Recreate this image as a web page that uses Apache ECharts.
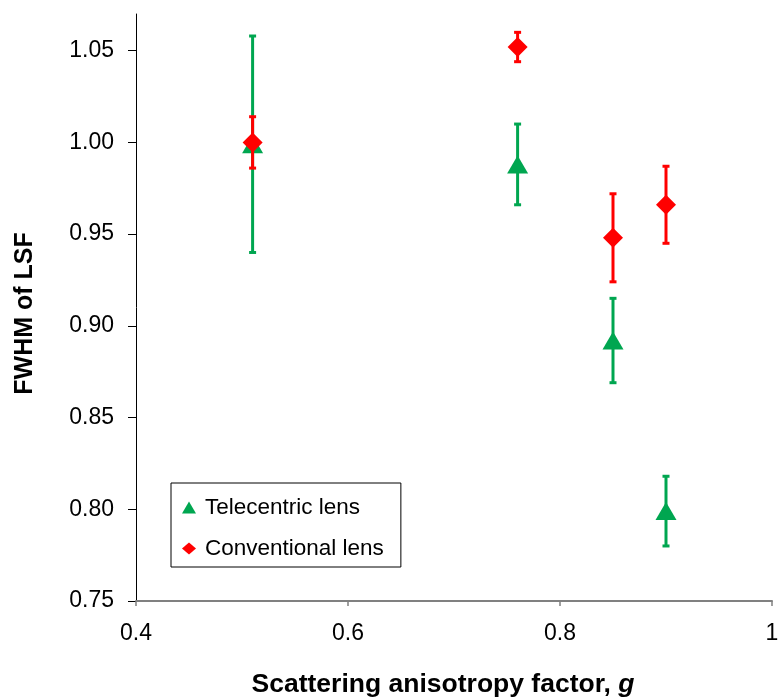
<!DOCTYPE html>
<html>
<head>
<meta charset="utf-8">
<script src="https://cdn.jsdelivr.net/npm/echarts@6/dist/echarts.min.js"></script>
<style>
  html, body { margin: 0; padding: 0; background: #fff; }
  #chart { width: 779px; height: 700px; }
</style>
</head>
<body>
<div id="chart"></div>
<script>
// anisotropy factor g
var gValues = [0.51, 0.76, 0.85, 0.90];
// telecentric lens: FWHM and error
var teleFwhm = [0.999, 0.988, 0.892, 0.799];
var teleErr = [0.059, 0.022, 0.023, 0.019];
// conventional lens
var convFwhm = [1.000, 1.052, 0.948, 0.966];
var convErr = [0.014, 0.008, 0.024, 0.021];
var yTicks = [0.75, 0.80, 0.85, 0.90, 0.95, 1.00, 1.05];

var green = '#00A650';
var red = '#FF0000';
var font = "'Liberation Sans', Arial, sans-serif";

var points = function(ys) {
	var out = [];
	for (var i = 0; i < gValues.length; i++) {
		out.push([gValues[i], ys[i]]);
	}
	return out;
};
var bars = function(ys, errs) {
	var out = [];
	for (var i = 0; i < gValues.length; i++) {
		out.push([gValues[i], ys[i] - errs[i], ys[i] + errs[i]]);
	}
	return out;
};
// draws one vertical error bar with small caps
var errorBar = function(color) {
	return function(params, api) {
		var lo = api.coord([api.value(0), api.value(1)]);
		var hi = api.coord([api.value(0), api.value(2)]);
		var st = { stroke: color, lineWidth: 3 };
		return {
			type: 'group',
			children: [
				{ type: 'line', shape: { x1: lo[0], y1: lo[1], x2: hi[0], y2: hi[1] }, style: st },
				{ type: 'line', shape: { x1: lo[0] - 3.5, y1: lo[1], x2: lo[0] + 3.5, y2: lo[1] }, style: st },
				{ type: 'line', shape: { x1: hi[0] - 3.5, y1: hi[1], x2: hi[0] + 3.5, y2: hi[1] }, style: st }
			]
		};
	};
};

var myChart = echarts.init(document.getElementById('chart'));
var option = {
	animation: false,
	grid: { left: 136, right: 7, top: 14, bottom: 99, outerBoundsMode: 'none' },
	legend: {
		orient: 'vertical',
		left: 171,
		top: 483,
		padding: [13, 17, 7, 11],
		itemGap: 18,
		itemWidth: 14,
		itemHeight: 12,
		borderColor: '#000',
		borderWidth: 1,
		textStyle: { color: '#000', fontSize: 22.5, fontFamily: font, padding: [0, 0, 0, 4] },
		data: [
			{ name: 'Telecentric lens', icon: 'triangle' },
			{ name: 'Conventional lens', icon: 'diamond' }
		]
	},
	xAxis: {
		type: 'value',
		min: 0.4,
		max: 1,
		interval: 0.2,
		name: 'Scattering anisotropy factor, {i|g}',
		nameLocation: 'middle',
		nameGap: 70,
		nameTextStyle: {
			color: '#000', fontSize: 26.5, fontWeight: 'bold', fontFamily: font,
			padding: [0, 22, 0, 0],
			rich: { i: { fontSize: 26.5, fontWeight: 'bold', fontStyle: 'italic', fontFamily: font, color: '#000' } }
		},
		axisLine: { lineStyle: { color: '#808080', width: 2 } },
		axisTick: { show: true, length: 5, lineStyle: { color: '#808080', width: 1.5 } },
		axisLabel: {
			color: '#000', fontSize: 23, fontFamily: font, margin: 21,
			formatter: function(v) { return v === 1 ? '1' : v.toFixed(1); }
		},
		splitLine: { show: false }
	},
	yAxis: {
		type: 'value',
		min: 0.75,
		max: 1.07,
		interval: 0.05,
		name: 'FWHM of LSF',
		nameLocation: 'middle',
		nameGap: 98,
		nameTextStyle: { color: '#000', fontSize: 25, fontWeight: 'bold', fontFamily: font, padding: [0, 12, 0, 0] },
		axisLine: { show: true, lineStyle: { color: '#000', width: 1 } },
		axisTick: { show: true, length: 8, customValues: yTicks, lineStyle: { color: '#000' } },
		axisLabel: {
			color: '#000', fontSize: 23, fontFamily: font, margin: 22,
			customValues: yTicks,
			formatter: function(v) { return v.toFixed(2); }
		},
		splitLine: { show: false }
	},
	series: [
		{
			name: 'Telecentric bars',
			type: 'custom',
			renderItem: errorBar(green),
			encode: { x: 0, y: [1, 2] },
			data: bars(teleFwhm, teleErr),
			z: 2
		},
		{
			name: 'Telecentric lens',
			type: 'scatter',
			symbol: 'triangle',
			symbolSize: [21, 18],
			itemStyle: { color: green, opacity: 1 },
			data: points(teleFwhm),
			z: 3
		},
		{
			name: 'Conventional bars',
			type: 'custom',
			renderItem: errorBar(red),
			encode: { x: 0, y: [1, 2] },
			data: bars(convFwhm, convErr),
			z: 4
		},
		{
			name: 'Conventional lens',
			type: 'scatter',
			symbol: 'diamond',
			symbolSize: [20, 20],
			itemStyle: { color: red, opacity: 1 },
			data: points(convFwhm),
			z: 5
		}
	]
};
myChart.setOption(option);
</script>
</body>
</html>
